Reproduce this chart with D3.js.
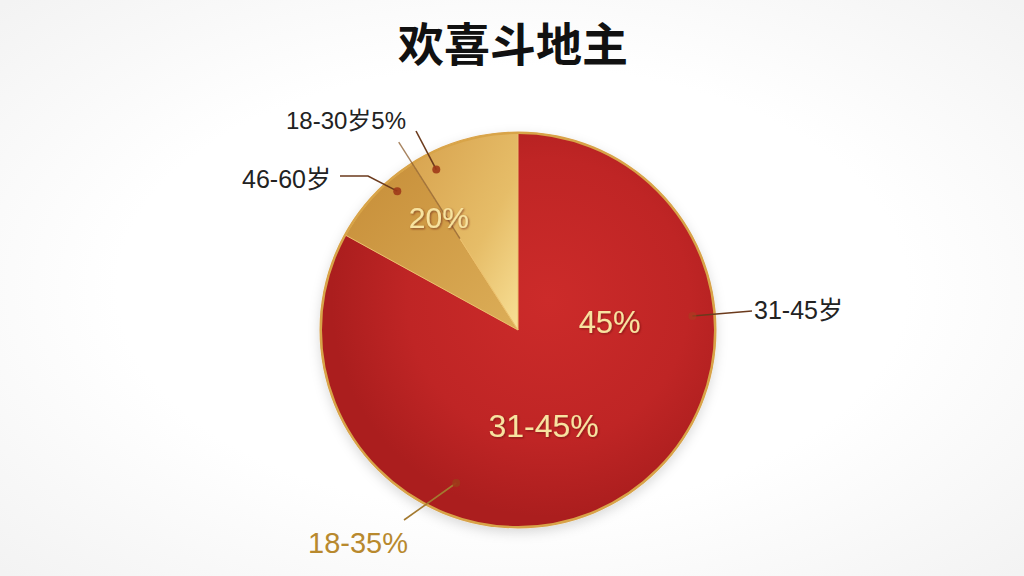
<!DOCTYPE html>
<html>
<head>
<meta charset="utf-8">
<script src="https://cdn.jsdelivr.net/npm/d3@7"></script>
<style>
  html, body { margin: 0; padding: 0; background: #fff; }
  svg { display: block; font-family: 'Noto Sans CJK SC', 'Liberation Sans', sans-serif; }
</style>
</head>
<body>
<div id="app"></div>
<script>
const title = '欢喜斗地主';
// slices, clockwise from 12 o'clock
const categories = ['31-45岁', '46-60岁', '18-30岁'];
const values = [83, 8, 9];
const sliceColors = ['red', 'darkGold', 'lightGold'];

// callout labels outside the pie
const outerLabels = ['31-45岁', '46-60岁', '18-30岁5%', '18-35%'];
// labels printed on the pie
const innerLabels = ['45%', '31-45%', '20%'];

const width = 1024;
const height = 576;
const cx = 518;
const cy = 330;
const radius = 197;

const svg = d3.select('#app').append('svg')
  .attr('width', width)
  .attr('height', height);

const defs = svg.append('defs');

// soft grey vignette behind everything
const bg = defs.append('radialGradient').attr('id', 'bg').attr('cx', '50%').attr('cy', '50%').attr('r', '70%');
bg.append('stop').attr('offset', '55%').attr('stop-color', '#ffffff');
bg.append('stop').attr('offset', '100%').attr('stop-color', '#f3f3f3');
svg.append('rect').attr('width', width).attr('height', height).attr('fill', 'url(#bg)');

// fills (gradient coords are in the pie group's own space)
const red = defs.append('radialGradient').attr('id', 'red')
  .attr('gradientUnits', 'userSpaceOnUse')
  .attr('cx', 30).attr('cy', -30).attr('r', radius * 1.1);
red.append('stop').attr('offset', '0%').attr('stop-color', '#cc2b2a');
red.append('stop').attr('offset', '65%').attr('stop-color', '#bf2525');
red.append('stop').attr('offset', '100%').attr('stop-color', '#ab1e1e');

const darkGold = defs.append('linearGradient').attr('id', 'darkGold')
  .attr('x1', '0%').attr('y1', '0%').attr('x2', '100%').attr('y2', '100%');
darkGold.append('stop').attr('offset', '0%').attr('stop-color', '#c68d38');
darkGold.append('stop').attr('offset', '100%').attr('stop-color', '#dcae58');

const lightGold = defs.append('linearGradient').attr('id', 'lightGold')
  .attr('x1', '0%').attr('y1', '0%').attr('x2', '100%').attr('y2', '100%');
lightGold.append('stop').attr('offset', '0%').attr('stop-color', '#d7a24e');
lightGold.append('stop').attr('offset', '60%').attr('stop-color', '#e6bd68');
lightGold.append('stop').attr('offset', '100%').attr('stop-color', '#f8e096');

const shadow = defs.append('filter').attr('id', 'shadow').attr('x', '-20%').attr('y', '-20%').attr('width', '140%').attr('height', '140%');
shadow.append('feDropShadow').attr('dx', 0).attr('dy', 4).attr('stdDeviation', 6).attr('flood-color', '#000').attr('flood-opacity', 0.15);

const textShadow = defs.append('filter').attr('id', 'textShadow');
textShadow.append('feDropShadow').attr('dx', 1).attr('dy', 1).attr('stdDeviation', 0.8).attr('flood-color', '#5a1008').attr('flood-opacity', 0.6);

// title
svg.append('text')
  .attr('x', 513)
  .attr('y', 61)
  .attr('text-anchor', 'middle')
  .attr('font-size', 46)
  .attr('font-weight', 'bold')
  .attr('fill', '#111')
  .text(title);

const pie = d3.pie().sort(null).value(d => d);
const arcs = pie(values);
const arc = d3.arc().innerRadius(0).outerRadius(radius);

const chartGroup = svg.append('g').attr('transform', `translate(${cx}, ${cy})`);

chartGroup.append('circle')
  .attr('r', radius + 1.5)
  .attr('fill', '#d9a24a')
  .attr('filter', 'url(#shadow)');

chartGroup.selectAll('path.slice')
  .data(arcs)
  .enter()
  .append('path')
  .classed('slice', true)
  .attr('d', arc)
  .attr('fill', (d, i) => `url(#${sliceColors[i]})`)
  .attr('stroke', (d, i) => (i === 0 ? 'none' : '#ebc06e'))
  .attr('stroke-width', 1);

// fine gold rim
chartGroup.append('circle')
  .attr('r', radius)
  .attr('fill', 'none')
  .attr('stroke', '#d8a448')
  .attr('stroke-width', 2);

// polar helper: angle in radians clockwise from 12 o'clock
const polar = (a, r) => [Math.sin(a) * r, -Math.cos(a) * r];
const deg = Math.PI / 180;

// the border between the two gold slices runs on past the rim
const split = arcs[1].endAngle;
chartGroup.append('path')
  .attr('d', d3.line()([polar(split, radius * 0.55), polar(split, radius * 1.13)]))
  .attr('stroke', '#8a5a2a')
  .attr('stroke-opacity', 0.75)
  .attr('stroke-width', 1.4);

// dot positions for the callouts (angle, radius) and where the text sits
const calloutLayout = [
  { dot: [85.4 * deg, 175], line: [[752, 311]], text: [754, 319], anchor: 'start', color: '#222', size: 25 },
  { dot: [319 * deg, 184], line: [[368, 176], [340, 176]], text: [331, 188], anchor: 'end', color: '#222', size: 25 },
  { dot: [333 * deg, 180], line: [[416, 131]], text: [346, 129], anchor: 'middle', color: '#222', size: 24 },
  { dot: [202 * deg, 165], line: [[404, 520]], text: [358, 553], anchor: 'middle', color: '#b8892e', size: 29 },
];

const line = d3.line();

outerLabels.forEach((label, i) => {
  const c = calloutLayout[i];
  const p = polar(c.dot[0], c.dot[1]);
  const dot = [cx + p[0], cy + p[1]];
  svg.append('path')
    .attr('d', line([dot].concat(c.line)))
    .attr('fill', 'none')
    .attr('stroke', i === 3 ? '#a47a30' : '#6b3a1c')
    .attr('stroke-width', 1.6);
  svg.append('circle')
    .attr('cx', dot[0]).attr('cy', dot[1]).attr('r', 4)
    .attr('fill', i === 0 ? '#a8401f' : '#9e3a1a')
    .attr('opacity', i === 0 ? 0.6 : 0.9);
  svg.append('text')
    .attr('x', c.text[0])
    .attr('y', c.text[1])
    .attr('text-anchor', c.anchor)
    .attr('font-family', "'Liberation Sans', 'Noto Sans CJK SC', sans-serif")
    .attr('font-size', c.size)
    .attr('fill', c.color)
    .text(label);
});

// labels written on the pie (angle, radius)
const innerLayout = [
  { pos: [85 * deg, 92], size: 31 },
  { pos: [165 * deg, 99], size: 32 },
  { pos: [325 * deg, 138], size: 30 },
];

innerLabels.forEach((label, i) => {
  const p = polar(innerLayout[i].pos[0], innerLayout[i].pos[1]);
  chartGroup.append('text')
    .attr('x', p[0])
    .attr('y', p[1] + innerLayout[i].size * 0.36)
    .attr('text-anchor', 'middle')
    .attr('font-family', "'Liberation Sans', sans-serif")
    .attr('font-size', innerLayout[i].size)
    .attr('fill', '#f8e3a0')
    .attr('filter', 'url(#textShadow)')
    .text(label);
});
</script>
</body>
</html>
